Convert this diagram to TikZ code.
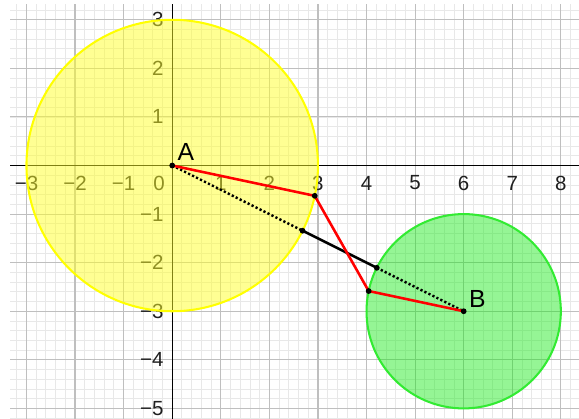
\documentclass[tikz,border=0pt]{standalone}
\usepackage{fontspec}
\setmainfont{Liberation Sans}
\definecolor{ggyellow}{RGB}{255,255,0}
\definecolor{ggyellowfill}{RGB}{255,255,40}
\definecolor{gggreen}{RGB}{50,235,50}
\definecolor{gggreenfill}{RGB}{20,235,20}
\definecolor{ggred}{RGB}{255,0,0}
\begin{document}
\begin{tikzpicture}[x=1cm,y=1cm,
  minorgrid/.style={draw=black!9, line width=0.5pt},
  majorgrid/.style={draw=black!25, line width=0.65pt},
  axisline/.style={draw=black, line width=0.7pt},
  ticklab/.style={font=\fontsize{12}{12}\selectfont, text=black!88, inner sep=0pt},
  ptlab/.style={font=\fontsize{14.5}{14.5}\selectfont, inner sep=0pt},
  redseg/.style={draw=ggred, line width=1.5pt},
  blackseg/.style={draw=black, line width=1.5pt},
  dotseg/.style={draw=black, line width=1.4pt, dash pattern=on 1.3pt off 1.3pt},
  ptdot/.style={circle, fill=black, inner sep=0pt, minimum size=3.4pt},
]
\useasboundingbox (-3.545,-5.218) rectangle (8.374,3.407);
\fill[white] (-3.545,-5.218) rectangle (8.374,3.407);
% grid
\begin{scope}
\clip (-3.339,-5.218) rectangle (8.374,3.324);
\draw[minorgrid, step=0.2] (-3.4,-5.4) grid (8.4,3.4);
\draw[majorgrid, step=1] (-4,-6) grid (9,4);
\end{scope}
% axes
\coordinate (xaxL) at (-3.339,0);
\coordinate (xaxR) at (8.374,0);
\coordinate (yaxT) at (0,3.324);
\coordinate (yaxB) at (0,-5.218);
\draw[axisline] (xaxL) -- (xaxR);
\draw[axisline] (yaxT) -- (yaxB);
% tick labels
\foreach \x [count=\i] in {3,2,1}
  \node[ticklab] (xn\i) at (-\x,-0.36) {−\x};
\foreach \x [count=\i] in {1,2,3,4,5,6,7,8}
  \node[ticklab] (xp\i) at (\x,-0.36) {\x};
\node[ticklab] (zero) at (-0.27,-0.36) {0};
\foreach \y [count=\i] in {1,2,3}
  \node[ticklab, anchor=east] (yp\i) at (-0.17,\y) {\y};
\foreach \y [count=\i] in {1,2,3,4,5}
  \node[ticklab, anchor=east] (yn\i) at (-0.17,-\y) {−\y};
% points
\coordinate (A) at (0,0);
\coordinate (B) at (6,-3);
\coordinate (P1) at (2.934,-0.624);
\coordinate (P2) at (4.044,-2.584);
\coordinate (Q1) at (2.683,-1.342);
\coordinate (Q2) at (4.211,-2.106);
% circles
\fill[ggyellowfill, fill opacity=0.5] (A) circle (3);
\draw[ggyellow, line width=1.2pt] (A) circle (3);
\fill[gggreenfill, fill opacity=0.45] (B) circle (2);
\draw[gggreen, line width=1.2pt] (B) circle (2);
% segments
\draw[dotseg] (A) -- (Q1);
\draw[blackseg] (Q1) -- (Q2);
\draw[dotseg] (Q2) -- (B);
\draw[redseg, line join=round] (A) -- (P1) -- (P2) -- (B);
% dots
\foreach \p in {A,B,P1,P2,Q1,Q2}
  \node[ptdot] (dot\p) at (\p) {};
% labels
\node[ptlab] (labA) at (0.28,0.27) {A};
\node[ptlab] (labB) at (6.28,-2.74) {B};
\end{tikzpicture}
\end{document}
